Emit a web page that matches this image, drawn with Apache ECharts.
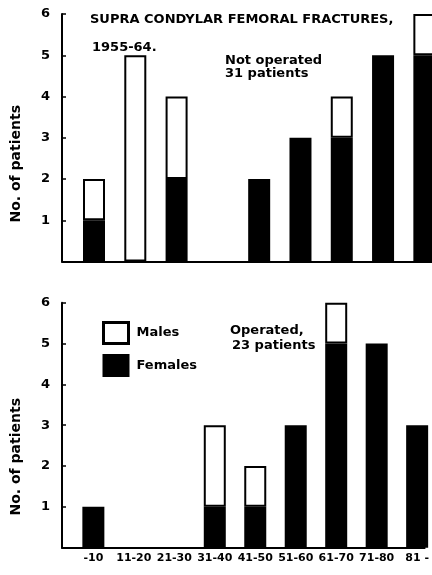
<!DOCTYPE html>
<html>
<head>
<meta charset="utf-8">
<script src="https://cdn.jsdelivr.net/npm/echarts@6/dist/echarts.min.js"></script>
<style>
html,body{margin:0;padding:0;background:#fff;}
#main{width:432px;height:575px;}
</style>
</head>
<body>
<div id="main"></div>
<script>
// age groups
var ageGroups = ['-10', '11-20', '21-30', '31-40', '41-50', '51-60', '61-70', '71-80', '81 -'];
// not operated, 31 patients
var notOpFemales = [1, 0, 2, 0, 2, 3, 3, 5, 5];
var notOpMales   = [1, 5, 2, 0, 0, 0, 1, 0, 1];
// operated, 23 patients
var opFemales = [1, 0, 0, 1, 1, 3, 5, 5, 3];
var opMales   = [0, 0, 0, 2, 1, 0, 1, 0, 0];
var yTicks = [0, 1, 2, 3, 4, 5, 6];

var font = '"DejaVu Sans"';

function pts(arr) {
    // [count, group index]; value first so the stack runs on y
    return arr.map(function (v, i) { return [v === 0 ? null : v, i]; });
}

function xAxisFor(idx, showLabels) {
    return {
        type: 'value',
        gridIndex: idx,
        min: -0.775,
        max: 8.185,
        splitLine: {show: false},
        axisTick: {show: false},
        axisLine: {show: true, onZero: false, lineStyle: {color: '#000', width: 2}},
        axisLabel: {
            show: showLabels,
            customValues: ageGroups.map(function (c, i) { return i; }),
            formatter: function (v) { return ageGroups[v]; },
            color: '#000', fontFamily: font, fontWeight: 'bold', fontSize: 11, margin: 5
        }
    };
}

function yAxisFor(idx) {
    return {
        type: 'value',
        gridIndex: idx,
        min: yTicks[0],
        max: yTicks[yTicks.length - 1],
        interval: 1,
        splitLine: {show: false},
        axisLine: {show: true, onZero: false, lineStyle: {color: '#000', width: 2}},
        axisTick: {show: true, inside: true, length: 4, lineStyle: {color: '#000', width: 1.5}},
        axisLabel: {
            showMinLabel: false,
            color: '#000', fontFamily: font, fontWeight: 'bold', fontSize: 13, margin: 12
        }
    };
}

function barSeries(name, idx, arr, fill, stack) {
    return {
        name: name,
        type: 'bar',
        xAxisIndex: idx,
        yAxisIndex: idx,
        stack: stack,
        barWidth: 22,
        clip: false,
        encode: {x: 1, y: 0},
        data: pts(arr),
        itemStyle: {color: fill, borderColor: '#000', borderWidth: 2},
        emphasis: {disabled: true}
    };
}

function txt(x, y, s, size, rot) {
    return {
        type: 'text', left: x, top: y, rotation: rot || 0,
        style: {text: s, fill: '#000', font: 'bold ' + size + 'px ' + font}
    };
}

var myChart = echarts.init(document.getElementById('main'));
var option = {
    animation: false,
    grid: [
        {left: 62, top: 14, right: 0, height: 247.5},
        {left: 62, top: 302.7, right: 0, height: 245}
    ],
    xAxis: [xAxisFor(0, false), xAxisFor(1, true)],
    yAxis: [yAxisFor(0), yAxisFor(1)],
    legend: {
        data: [
            {name: 'Males', itemStyle: {borderWidth: 3}},
            {name: 'Females'}
        ],
        icon: 'rect',
        orient: 'vertical',
        left: 102, top: 321,
        padding: 0,
        itemWidth: 25, itemHeight: 21, itemGap: 9,
        selectedMode: false,
        textStyle: {color: '#000', fontFamily: font, fontWeight: 'bold', fontSize: 13, padding: [0, 0, 0, 3]}
    },
    series: [
        barSeries('Females', 0, notOpFemales, '#000', 'a'),
        barSeries('Males', 0, notOpMales, '#fff', 'a'),
        barSeries('Females', 1, opFemales, '#000', 'b'),
        barSeries('Males', 1, opMales, '#fff', 'b')
    ],
    graphic: [
        txt(90, 13, 'SUPRA CONDYLAR FEMORAL FRACTURES,', 13),
        txt(92, 41, '1955-64.', 13),
        txt(225, 54, 'Not operated', 13),
        txt(225, 67, '31 patients', 13),
        txt(230, 324, 'Operated,', 13),
        txt(232, 339, '23 patients', 13),
        txt(9, 105, 'No. of patients', 14, Math.PI / 2),
        txt(9, 398, 'No. of patients', 14, Math.PI / 2)
    ]
};
myChart.setOption(option);
</script>
</body>
</html>
